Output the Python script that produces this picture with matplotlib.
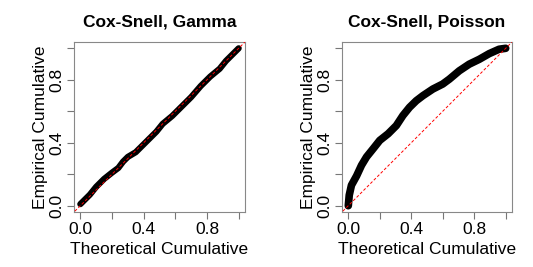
import matplotlib
matplotlib.use("Agg")
import matplotlib.pyplot as plt

plt.rcParams["font.family"] = ["Liberation Sans", "DejaVu Sans"]

# Cox-Snell residuals, gamma fit: theoretical vs empirical cumulative
gamma_theo = [0.0, 0.03, 0.06, 0.10, 0.15, 0.20, 0.24, 0.27, 0.30, 0.35,
              0.40, 0.45, 0.48, 0.52, 0.58, 0.64, 0.70, 0.76, 0.82, 0.88,
              0.92, 0.96, 1.0]
gamma_emp = [0.01, 0.04, 0.07, 0.12, 0.17, 0.21, 0.24, 0.28, 0.31, 0.34,
             0.39, 0.44, 0.47, 0.52, 0.57, 0.63, 0.69, 0.76, 0.82, 0.87,
             0.92, 0.96, 1.0]

# Cox-Snell residuals, Poisson fit
pois_theo = [0.0, 0.006, 0.02, 0.053, 0.084, 0.116, 0.158, 0.20, 0.253,
             0.305, 0.347, 0.389, 0.432, 0.474, 0.537, 0.60, 0.642, 0.705,
             0.768, 0.832, 0.895, 0.958, 1.0]
pois_emp = [0.0, 0.067, 0.13, 0.19, 0.257, 0.31, 0.362, 0.415, 0.457,
            0.509, 0.573, 0.625, 0.667, 0.699, 0.741, 0.773, 0.804, 0.857,
            0.899, 0.93, 0.966, 0.994, 1.0]

ticks = [0.0, 0.2, 0.4, 0.6, 0.8, 1.0]
tick_labels = ["0.0", "", "0.4", "", "0.8", ""]

panels = [
    ("Cox-Snell, Gamma", gamma_theo, gamma_emp, 4.5),
    ("Cox-Snell, Poisson", pois_theo, pois_emp, 5.5),
]

fig = plt.figure(figsize=(5.33, 2.67), dpi=100)
W, H = 533, 267
boxes = [(74, 42, 171, 170), (342, 42, 170, 170)]

for (title, x, y, lw), (l, t, w, h) in zip(panels, boxes):
    ax = fig.add_axes([l / W, 1 - (t + h) / H, w / W, h / H])
    ax.plot(x, y, color="black", lw=lw, solid_capstyle="round",
            solid_joinstyle="round", zorder=2)
    ax.plot([-0.1, 1.1], [-0.1, 1.1], color="red", lw=0.7,
            ls=(0, (3, 2)), zorder=3)
    ax.set_xlim(-0.04, 1.04)
    ax.set_ylim(-0.04, 1.04)
    ax.set_xticks(ticks)
    ax.set_xticklabels(tick_labels)
    ax.set_yticks(ticks)
    ax.set_yticklabels(tick_labels, rotation=90, va="center")
    ax.tick_params(length=5, width=0.8, color="#777777", labelsize=12.5,
                   pad=2)
    for s in ax.spines.values():
        s.set_color("#888888")
        s.set_linewidth(0.8)
    ax.set_xlabel("Theoretical Cumulative", fontsize=12.5, labelpad=4)
    ax.set_ylabel("Empirical Cumulative", fontsize=12.5, labelpad=1)
    ax.set_title(title, fontsize=12.5, fontweight="bold", pad=11)

plt.savefig("out.png", dpi=100)
